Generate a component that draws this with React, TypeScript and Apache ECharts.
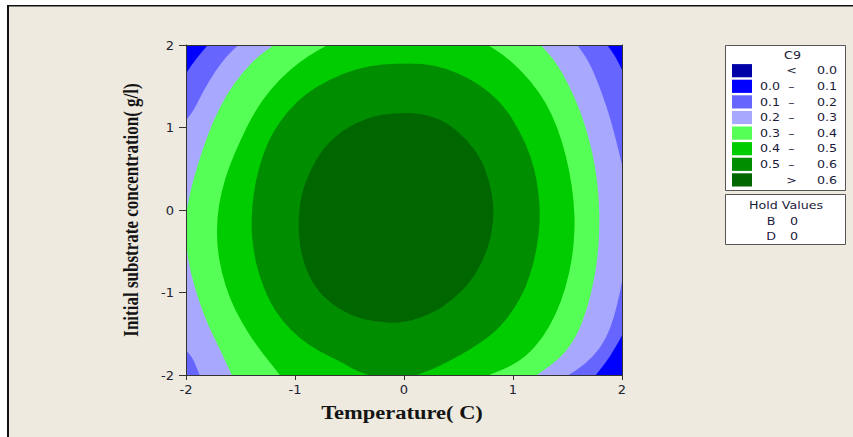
import React, { useEffect, useRef } from "react";
import * as echarts from "echarts";

// Legend / level information
const LEGEND_TITLE = "C9";
const LEVEL_LEFT = ["", "0.0", "0.1", "0.2", "0.3", "0.4", "0.5", ""];
const LEVEL_MID = ["<", "–", "–", "–", "–", "–", "–", ">"];
const LEVEL_RIGHT = ["0.0", "0.1", "0.2", "0.3", "0.4", "0.5", "0.6", "0.6"];
const LEVEL_COLORS = ["#0000A8", "#0000FF", "#6666FF", "#A8A8FF", "#55FF55", "#00CC00", "#008E00", "#006600"];
const HOLD_TITLE = "Hold Values";
const HOLD_NAMES = ["B", "D"];
const HOLD_VALUES = ["0", "0"];

const X_TITLE = "Temperature( C)";
const Y_TITLE = "Initial substrate concentration( g/l)";

// Contour boundaries (x = Temperature, y = concentration)
// each polygon encloses the region at or above its level
const CONTOUR_01: number[][] = [
  [-1.80, 2.0], [1.864, 2.0], [1.94, 1.86], [2.0, 1.70], [2.0, -1.52], [1.89, -1.78], [1.76, -2.0],
  [-2.0, -2.0], [-2.0, 1.656], [-1.905, 1.838],
];
const CONTOUR_02: number[][] = [
  [-1.52, 2.0], [1.59, 2.0], [1.697, 1.798], [1.788, 1.515], [1.864, 1.232], [1.926, 0.949], [1.971, 0.707],
  [2.0, 0.55], [2.0, -0.87], [1.956, -1.152], [1.895, -1.435], [1.80, -1.68], [1.66, -1.87], [1.51, -2.0],
  [-1.875, -2.0], [-1.936, -1.798], [-2.0, -1.70], [-2.0, 1.09], [-1.936, 1.192], [-1.844, 1.434],
  [-1.737, 1.676], [-1.631, 1.858],
];
const CONTOUR_03: number[][] = [
  [-1.19, 2.0], [1.254, 2.0], [1.391, 1.798], [1.513, 1.515], [1.62, 1.192], [1.697, 0.868], [1.758, 0.505],
  [1.788, 0.141], [1.794, -0.182], [1.782, -0.505], [1.742, -0.869], [1.681, -1.192], [1.59, -1.516],
  [1.45, -1.78], [1.22, -2.0], [-1.58, -2.0], [-1.692, -1.677], [-1.799, -1.394], [-1.89, -1.071],
  [-1.96, -0.748], [-1.995, -0.465], [-2.01, -0.142], [-1.975, 0.141], [-1.921, 0.424], [-1.844, 0.747],
  [-1.753, 1.07], [-1.631, 1.394], [-1.478, 1.676], [-1.325, 1.878],
];
const CONTOUR_04: number[][] = [
  [-0.70, 2.0], [0.77, 2.0], [0.933, 1.858], [1.086, 1.676], [1.239, 1.434], [1.361, 1.151], [1.452, 0.828],
  [1.52, 0.464], [1.559, 0.101], [1.568, -0.223], [1.544, -0.586], [1.483, -0.95], [1.391, -1.273],
  [1.269, -1.556], [1.117, -1.78], [0.95, -1.91], [0.78, -2.0], [-1.14, -2.0], [-1.234, -1.839],
  [-1.356, -1.637], [-1.493, -1.354], [-1.6, -1.071], [-1.676, -0.748], [-1.716, -0.425], [-1.716, -0.101],
  [-1.676, 0.222], [-1.6, 0.545], [-1.493, 0.868], [-1.371, 1.192], [-1.219, 1.474], [-1.051, 1.697],
  [-0.867, 1.878],
];
const CONTOUR_05: number[][] = [
  [-0.074, 1.777], [0.17, 1.777], [0.384, 1.717], [0.598, 1.596], [0.781, 1.434], [0.933, 1.232],
  [1.056, 0.97], [1.162, 0.666], [1.223, 0.343], [1.248, 0.02], [1.239, -0.303], [1.193, -0.627],
  [1.117, -0.95], [0.995, -1.233], [0.842, -1.475], [0.628, -1.677], [0.415, -1.83], [0.25, -1.94],
  [0.05, -2.03], [-0.25, -2.03], [-0.44, -1.95], [-0.562, -1.85], [-0.776, -1.718], [-0.959, -1.556],
  [-1.112, -1.354], [-1.234, -1.111], [-1.332, -0.788], [-1.386, -0.465], [-1.402, -0.142], [-1.38, 0.222],
  [-1.325, 0.545], [-1.249, 0.828], [-1.142, 1.07], [-0.99, 1.313], [-0.806, 1.495], [-0.562, 1.656],
  [-0.318, 1.749],
];
const CONTOUR_06: number[][] = [
  [-0.074, 1.179], [0.17, 1.17], [0.384, 1.07], [0.567, 0.868], [0.704, 0.626], [0.787, 0.343],
  [0.827, 0.02], [0.805, -0.303], [0.735, -0.586], [0.613, -0.869], [0.445, -1.091], [0.262, -1.253],
  [-0.02, -1.375], [-0.288, -1.354], [-0.501, -1.273], [-0.715, -1.091], [-0.852, -0.869],
  [-0.944, -0.545], [-0.974, -0.182], [-0.944, 0.182], [-0.867, 0.464], [-0.745, 0.747], [-0.562, 0.97],
  [-0.318, 1.131],
];
const CONTOURS = [CONTOUR_01, CONTOUR_02, CONTOUR_03, CONTOUR_04, CONTOUR_05, CONTOUR_06];

const TEXT_COLOR = "#1a1a3a";
const LEG_FONT = '11px "DejaVu Sans"';
const LEG_SCALE = 1.15;

// points lying on the plot frame are kept as sharp corners, the others are rounded
function isOnFrame(p: number[]): boolean {
  return Math.abs(p[0]) >= 1.999 || Math.abs(p[1]) >= 1.999;
}

function smoothPath(data: number[][], px: number[][]): string {
  const n = px.length;
  const sharp = data.map(isOnFrame);
  const mid = (a: number[], b: number[]) => [(a[0] + b[0]) / 2, (a[1] + b[1]) / 2];
  const f = (v: number) => v.toFixed(2);
  let start = sharp.indexOf(true);
  let d = "";
  if (start < 0) {
    const m = mid(px[n - 1], px[0]);
    d = `M${f(m[0])} ${f(m[1])}`;
    for (let i = 0; i < n; i++) {
      const m2 = mid(px[i], px[(i + 1) % n]);
      d += ` Q${f(px[i][0])} ${f(px[i][1])} ${f(m2[0])} ${f(m2[1])}`;
    }
    return d + " Z";
  }
  d = `M${f(px[start][0])} ${f(px[start][1])}`;
  let prevSharp = true;
  for (let k = 1; k <= n; k++) {
    const i = (start + k) % n;
    const prev = (i - 1 + n) % n;
    if (sharp[i]) {
      d += ` L${f(px[i][0])} ${f(px[i][1])}`;
      prevSharp = true;
    } else {
      if (prevSharp) {
        const m0 = mid(px[prev], px[i]);
        d += ` L${f(m0[0])} ${f(m0[1])}`;
      }
      const m1 = mid(px[i], px[(i + 1) % n]);
      d += ` Q${f(px[i][0])} ${f(px[i][1])} ${f(m1[0])} ${f(m1[1])}`;
      prevSharp = false;
    }
  }
  return d + " Z";
}

function legText(text: string, x: number, y: number, align: string): any {
  return {
    type: "text", x, y, scaleX: LEG_SCALE,
    style: {
      text, font: LEG_FONT, fill: TEXT_COLOR,
      align, verticalAlign: "middle", textAlign: align, textVerticalAlign: "middle",
    },
  };
}

function buildLegend(): any[] {
  const els: any[] = [];
  els.push({
    type: "rect", shape: { x: 725.5, y: 45.5, width: 120, height: 145 },
    style: { fill: "#FFFFFF", stroke: "#555555", lineWidth: 1 },
  });
  els.push(legText(LEGEND_TITLE, 792.5, 55, "center"));
  LEVEL_COLORS.forEach((c, i) => {
    const cy = 70.7 + 15.6 * i;
    els.push({ type: "rect", shape: { x: 732, y: cy - 6.6, width: 20, height: 13.2 }, style: { fill: c } });
    if (LEVEL_LEFT[i]) els.push(legText(LEVEL_LEFT[i], 780, cy, "right"));
    els.push(legText(LEVEL_MID[i], 791.5, cy, "center"));
    els.push(legText(LEVEL_RIGHT[i], 837, cy, "right"));
  });
  els.push({
    type: "rect", shape: { x: 725.5, y: 194.5, width: 120, height: 50 },
    style: { fill: "#FFFFFF", stroke: "#555555", lineWidth: 1 },
  });
  els.push(legText(HOLD_TITLE, 786, 205, "center"));
  HOLD_NAMES.forEach((n, i) => {
    const cy = 221.5 + 15 * i;
    els.push(legText(n, 771, cy, "center"));
    els.push(legText(HOLD_VALUES[i], 794, cy, "center"));
  });
  return els;
}

export default function App() {
  const ref = useRef<HTMLDivElement>(null);
  useEffect(() => {
    if (!ref.current) return;
    const chart = echarts.init(ref.current, null, { renderer: "svg" });
    const axisLabel = { fontSize: 13, fontFamily: '"DejaVu Sans"', color: "#222233" };
    const lineStyle = { color: "#333333", width: 1 };
    const option: any = {
      animation: false,
      backgroundColor: "#EEEADF",
      grid: {
        left: 186, top: 45, width: 436, height: 330,
        show: true, backgroundColor: LEVEL_COLORS[1], borderWidth: 0,
        containLabel: false, outerBoundsMode: "none",
      },
      xAxis: [
        {
          type: "value", min: -2, max: 2, interval: 1, position: "bottom", z: 5,
          axisLine: { show: true, onZero: false, lineStyle },
          axisTick: { show: true, length: 5, lineStyle },
          axisLabel: { ...axisLabel, margin: 8 },
          splitLine: { show: false },
        },
        {
          type: "value", min: -2, max: 2, interval: 1, position: "top", z: 5,
          axisLine: { show: true, onZero: false, lineStyle },
          axisTick: { show: false }, axisLabel: { show: false }, splitLine: { show: false },
        },
      ],
      yAxis: [
        {
          type: "value", min: -2, max: 2, interval: 1, position: "left", z: 5,
          axisLine: { show: true, onZero: false, lineStyle },
          axisTick: { show: true, length: 7, lineStyle },
          axisLabel: { ...axisLabel, margin: 12 },
          splitLine: { show: false },
        },
        {
          type: "value", min: -2, max: 2, interval: 1, position: "right", z: 5,
          axisLine: { show: true, onZero: false, lineStyle },
          axisTick: { show: false }, axisLabel: { show: false }, splitLine: { show: false },
        },
      ],
      series: [
        {
          type: "custom",
          coordinateSystem: "cartesian2d",
          xAxisIndex: 0,
          yAxisIndex: 0,
          clip: true,
          silent: true,
          data: CONTOURS.map((_, i) => [0, 0, i]),
          encode: { x: 0, y: 1 },
          renderItem: (_params: any, api: any) => {
            const idx = api.value(2);
            const poly = CONTOURS[idx];
            const pts = poly.map((p) => api.coord(p));
            return {
              type: "path",
              shape: { pathData: smoothPath(poly, pts) },
              style: { fill: LEVEL_COLORS[idx + 2] },
            };
          },
        },
      ],
      graphic: {
        elements: [
          { type: "rect", shape: { x: 0, y: 0, width: 7, height: 437 }, style: { fill: "#FFFFFF" }, silent: true },
          { type: "rect", shape: { x: 0, y: 0, width: 853, height: 5 }, style: { fill: "#FFFFFF" }, silent: true },
          { type: "rect", shape: { x: 7, y: 5, width: 846, height: 1.6 }, style: { fill: "#111111" }, silent: true },
          { type: "rect", shape: { x: 7, y: 5, width: 2, height: 432 }, style: { fill: "#111111" }, silent: true },
          {
            type: "text", x: 402, y: 413, scaleX: 1.25,
            style: {
              text: X_TITLE, font: 'bold 18px "Liberation Serif"', fill: "#141414",
              align: "center", verticalAlign: "middle", textAlign: "center", textVerticalAlign: "middle",
            },
          },
          {
            type: "text", x: 131, y: 210, rotation: Math.PI / 2, scaleY: 1.2,
            style: {
              text: Y_TITLE, font: 'bold 17px "Liberation Serif"', fill: "#141414",
              align: "center", verticalAlign: "middle", textAlign: "center", textVerticalAlign: "middle",
            },
          },
          ...buildLegend(),
        ],
      },
    };
    chart.setOption(option);
    return () => chart.dispose();
  }, []);
  return (
    <div
      ref={ref}
      style={{ position: "absolute", left: 0, top: 0, width: 853, height: 437 }}
    />
  );
}
